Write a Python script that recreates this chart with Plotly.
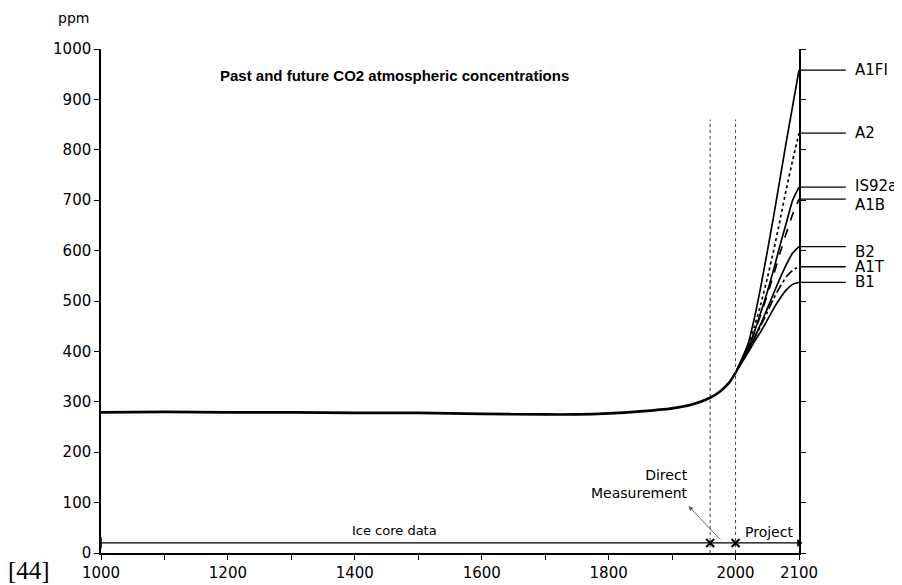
import plotly.graph_objects as go

# ---- data ----
hist_years = [1000, 1100, 1200, 1300, 1400, 1500, 1600, 1700, 1750, 1800, 1850, 1900, 1930, 1960, 1975, 1990, 2000]
hist_ppm = [279, 280, 279, 279, 278, 278, 276, 275, 275, 277, 281, 287, 294, 308, 320, 338, 358]

scen_years = [2000, 2010, 2020, 2030, 2040, 2050, 2060, 2070, 2080, 2090, 2100]
a1fi = [358, 385, 416, 468, 530, 598, 668, 742, 816, 887, 958]
a2 = [358, 383, 411, 450, 495, 545, 600, 660, 722, 779, 833]
is92a = [358, 382, 407, 440, 478, 518, 562, 610, 655, 700, 726]
a1b = [358, 382, 406, 438, 474, 512, 552, 595, 635, 672, 702]
b2 = [358, 380, 402, 428, 455, 485, 515, 545, 572, 595, 608]
a1t = [358, 380, 402, 427, 452, 478, 505, 528, 548, 561, 568]
b1 = [358, 378, 398, 420, 440, 462, 485, 505, 522, 533, 537]

scenario_names = ["A1FI", "A2", "IS92a", "A1B", "B2", "A1T", "B1"]
scenario_values = [a1fi, a2, is92a, a1b, b2, a1t, b1]
scenario_dash = ["solid", "dot", "solid", "dash", "solid", "dashdot", "solid"]
label_yshift = [0, 0, 1, -6, -5, 0, 0]

x_tick_vals = list(range(1000, 2101, 100))
x_tick_text = ["1000", "", "1200", "", "1400", "", "1600", "", "1800", "", "2000", "2100"]
y_tick_vals = list(range(0, 1001, 100))

period_years = [1000, 1960, 2000, 2100]   # ice core / direct measurement / projection bounds
period_bar_ppm = 20
marker_line_top = 860

FONT = "DejaVu Sans"

fig = go.Figure()

# historical curve
fig.add_trace(go.Scatter(x=hist_years, y=hist_ppm, mode="lines",
                         line=dict(color="black", width=2.6, shape="spline", smoothing=0.6),
                         showlegend=False, hoverinfo="skip"))

# scenario curves
for name, vals, dash in zip(scenario_names, scenario_values, scenario_dash):
    fig.add_trace(go.Scatter(x=scen_years, y=vals, mode="lines", name=name,
                             line=dict(color="black", width=1.7, dash=dash, shape="spline", smoothing=0.6),
                             showlegend=False, hoverinfo="skip"))

# vertical dotted period lines
for yr in period_years[1:3]:
    fig.add_trace(go.Scatter(x=[yr, yr], y=[0, marker_line_top], mode="lines",
                             line=dict(color="#444", width=1, dash="dot"),
                             showlegend=False, hoverinfo="skip"))

# period bar
fig.add_trace(go.Scatter(x=[period_years[0], period_years[-1]], y=[period_bar_ppm, period_bar_ppm],
                         mode="lines", line=dict(color="black", width=1.2),
                         showlegend=False, hoverinfo="skip"))
fig.add_trace(go.Scatter(x=period_years[1:3], y=[period_bar_ppm] * 2, mode="markers",
                         marker=dict(symbol="x-thin", size=8, line=dict(color="black", width=2)),
                         showlegend=False, hoverinfo="skip", cliponaxis=False))
fig.add_trace(go.Scatter(x=[period_years[0]], y=[period_bar_ppm], mode="markers",
                         marker=dict(symbol="line-ns", size=8, line=dict(color="black", width=1.5)),
                         showlegend=False, hoverinfo="skip", cliponaxis=False))
fig.add_trace(go.Scatter(x=[period_years[-1]], y=[period_bar_ppm], mode="markers",
                         marker=dict(symbol="triangle-right", size=7, color="black"),
                         showlegend=False, hoverinfo="skip", cliponaxis=False))

shapes = []
annotations = []
# right-hand labels with leader lines
for name, vals, ys in zip(scenario_names, scenario_values, label_yshift):
    shapes.append(dict(type="line", xref="paper", yref="y", x0=1.0, x1=1.067,
                       y0=vals[-1], y1=vals[-1], line=dict(color="black", width=1.3)))
    annotations.append(dict(xref="paper", yref="y", x=1.077, y=vals[-1], text=name,
                            showarrow=False, xanchor="left", yanchor="middle", yshift=ys,
                            font=dict(family=FONT, size=15, color="black")))

annotations += [
    dict(xref="paper", yref="paper", x=0.4205, y=0.948, xanchor="center", yanchor="middle",
         text="<b>Past and future CO2 atmospheric concentrations</b>", showarrow=False,
         font=dict(family="Liberation Sans", size=15, color="black")),
    dict(xref="paper", yref="paper", x=-0.040, y=1.0615, xanchor="center", yanchor="middle",
         text="ppm", showarrow=False,
         font=dict(family=FONT, size=14, color="black")),
    dict(xref="paper", yref="paper", x=-0.1032, y=-0.0357, xanchor="center", yanchor="middle",
         text="[44]", showarrow=False,
         font=dict(family="Liberation Serif", size=25, color="black")),
    dict(xref="x", yref="y", x=1463, y=45, text="Ice core data", showarrow=False,
         font=dict(family=FONT, size=13, color="black")),
    dict(xref="x", yref="y", x=2012, y=42, text="Project", showarrow=False, xanchor="left",
         font=dict(family=FONT, size=14, color="black")),
    dict(xref="x", yref="y", x=1928, y=137, text="Direct<br>Measurement", showarrow=False,
         xanchor="right", align="right",
         font=dict(family=FONT, size=14, color="black")),
    dict(xref="x", yref="y", x=1926, y=93, axref="x", ayref="y", ax=1978, ay=24, text="",
         showarrow=True, arrowhead=2, arrowsize=1, arrowwidth=0.9, arrowcolor="#555"),
]

fig.update_layout(
    width=894, height=577,
    margin=dict(l=93, r=103, t=41, b=32),
    paper_bgcolor="white", plot_bgcolor="white",
    shapes=shapes, annotations=annotations,
    xaxis=dict(range=[1000, 2100], tickvals=x_tick_vals, ticktext=x_tick_text,
               ticks="outside", ticklen=5, tickcolor="black", showline=True, linecolor="black",
               linewidth=1.5, showgrid=False, zeroline=False, automargin=False,
               tickfont=dict(family=FONT, size=15, color="black")),
    yaxis=dict(range=[0, 1000], tickvals=y_tick_vals, ticks="outside", ticklen=5,
               tickcolor="black", showline=True, linecolor="black", linewidth=1.5,
               mirror="ticks", showgrid=False, zeroline=False, automargin=False,
               tickfont=dict(family=FONT, size=15, color="black")),
)

fig.write_html("out.html")
